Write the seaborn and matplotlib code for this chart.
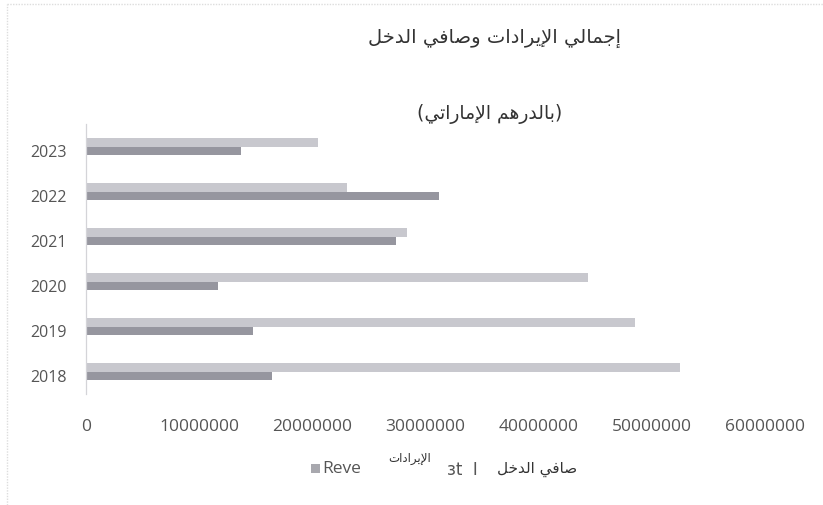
import matplotlib
matplotlib.use("Agg")
import matplotlib.pyplot as plt
import matplotlib.transforms as mtransforms
import seaborn as sns
import pandas as pd
from matplotlib.patches import Rectangle
from matplotlib.lines import Line2D

# ---------------- data ----------------
years = ["2023", "2022", "2021", "2020", "2019", "2018"]
revenue = [20.5e6, 23.1e6, 28.4e6, 44.4e6, 48.5e6, 52.5e6]
net_income = [13.7e6, 31.2e6, 27.4e6, 11.7e6, 14.8e6, 16.4e6]
x_ticks = [0, 10000000, 20000000, 30000000, 40000000, 50000000, 60000000]
title_1 = "إجمالي الإيرادات وصافي الدخل"
title_2 = "(بالدرهم الإماراتي)"
legend_rev_ar = "الإيرادات"
legend_net_ar = "صافي الدخل"

# ------------- minimal Arabic shaping (presentation forms, visual order) -------------
FORMS = {
    '\u0627': ('\uFE8D', '\uFE8E', None, None),
    '\u0623': ('\uFE83', '\uFE84', None, None),
    '\u0625': ('\uFE87', '\uFE88', None, None),
    '\u0622': ('\uFE81', '\uFE82', None, None),
    '\u0628': ('\uFE8F', '\uFE90', '\uFE91', '\uFE92'),
    '\u062A': ('\uFE95', '\uFE96', '\uFE97', '\uFE98'),
    '\u062C': ('\uFE9D', '\uFE9E', '\uFE9F', '\uFEA0'),
    '\u062E': ('\uFEA5', '\uFEA6', '\uFEA7', '\uFEA8'),
    '\u062F': ('\uFEA9', '\uFEAA', None, None),
    '\u0631': ('\uFEAD', '\uFEAE', None, None),
    '\u0635': ('\uFEB9', '\uFEBA', '\uFEBB', '\uFEBC'),
    '\u0641': ('\uFED1', '\uFED2', '\uFED3', '\uFED4'),
    '\u0644': ('\uFEDD', '\uFEDE', '\uFEDF', '\uFEE0'),
    '\u0645': ('\uFEE1', '\uFEE2', '\uFEE3', '\uFEE4'),
    '\u0647': ('\uFEE9', '\uFEEA', '\uFEEB', '\uFEEC'),
    '\u0648': ('\uFEED', '\uFEEE', None, None),
    '\u064A': ('\uFEF1', '\uFEF2', '\uFEF3', '\uFEF4'),
}
LAM_ALEF = {'\u0627': ('\uFEFB', '\uFEFC'), '\u0623': ('\uFEF7', '\uFEF8'),
            '\u0625': ('\uFEF9', '\uFEFA'), '\u0622': ('\uFEF5', '\uFEF6')}


def shape(text):
    toks = []
    i = 0
    while i < len(text):
        c = text[i]
        if c == '\u0644' and i + 1 < len(text) and text[i + 1] in LAM_ALEF:
            toks.append(('LA', text[i + 1]))
            i += 2
        else:
            toks.append(c)
            i += 1

    def dual(t):
        return isinstance(t, str) and t in FORMS and FORMS[t][2] is not None

    def joining(t):
        return isinstance(t, tuple) or t in FORMS

    out = []
    for k, t in enumerate(toks):
        prev = toks[k - 1] if k > 0 else None
        nxt = toks[k + 1] if k + 1 < len(toks) else None
        jp = prev is not None and dual(prev) and joining(t)
        if isinstance(t, tuple):
            out.append(LAM_ALEF[t[1]][1 if jp else 0])
            continue
        if t not in FORMS:
            out.append(t)
            continue
        jn = dual(t) and nxt is not None and joining(nxt)
        f = FORMS[t]
        if jp and jn:
            out.append(f[3])
        elif jp:
            out.append(f[1])
        elif jn:
            out.append(f[2])
        else:
            out.append(f[0])
    s = ''.join(out)[::-1]
    return s.translate(str.maketrans('()', ')('))


# ---------------- frame ----------------
df = pd.DataFrame({
    "year": years * 2,
    "value": revenue + net_income,
    "series": ["Revenue"] * len(years) + ["Net Income"] * len(years),
})

sns.set_theme(style="white")
plt.rcParams['font.family'] = ['Open Sans', 'DejaVu Sans']

W, H = 823, 506
fig = plt.figure(figsize=(W / 100, H / 100), dpi=100)
ax = fig.add_axes([86 / W, 1 - 395 / H, (765 - 86) / W, (395 - 125) / H])

pal = {"Revenue": "#c8c8ce", "Net Income": "#96969f"}
sns.barplot(data=df, x="value", y="year", hue="series", order=years,
            hue_order=["Revenue", "Net Income"], palette=pal, width=0.39,
            orient="h", ax=ax, legend=False, saturation=1, linewidth=0)

ax.set_xlim(0, 60e6)
ax.set_xticks(x_ticks)
ax.set_xticklabels([str(v) for v in x_ticks], fontsize=12.5, color="#555555")
ax.tick_params(axis="x", length=0, pad=17)
ax.tick_params(axis="y", length=0, pad=14, labelsize=11.5, labelcolor="#555555")
ax.set_xlabel("")
ax.set_ylabel("")
for side in ["top", "right", "bottom"]:
    ax.spines[side].set_visible(False)
ax.spines["left"].set_color("#d4d4d8")
ax.spines["left"].set_linewidth(0.9)

# y labels sit a little below the bar pairs in the scan
shift = mtransforms.ScaledTranslation(0, -4 / 100, fig.dpi_scale_trans)
for lab in ax.get_yticklabels():
    lab.set_transform(lab.get_transform() + shift)

# titles
fig.text(495 / W, 1 - 38 / H, shape(title_1), ha="center", va="center",
         fontsize=14, color="#333333", family="DejaVu Sans")
fig.text(490 / W, 1 - 114 / H, shape(title_2), ha="center", va="center",
         fontsize=13.5, color="#333333", family="DejaVu Sans")

# legend (garbled overlay, as in the scan)
fig.patches.append(Rectangle((311 / W, 1 - 474 / H), 9 / W, 9 / H,
                             transform=fig.transFigure, facecolor="#a8a8ae",
                             edgecolor="none"))
fig.text(322 / W, 1 - 469 / H, "Reve", ha="left", va="center", fontsize=12.5,
         color="#555555")
fig.text(410 / W, 1 - 459 / H, shape(legend_rev_ar), ha="center", va="center",
         fontsize=8.5, color="#333333", family="DejaVu Sans")
fig.text(447 / W, 1 - 470 / H, "ɜt  I", ha="left", va="center", fontsize=12,
         color="#555555", family="DejaVu Sans")
fig.text(537 / W, 1 - 469 / H, shape(legend_net_ar), ha="center", va="center",
         fontsize=11, color="#333333", family="DejaVu Sans")

# faint scan frame
fig.lines.append(Line2D([7 / W, 7 / W], [0, 1 - 5 / H], transform=fig.transFigure,
                        color="#dddddd", lw=1, ls=(0, (1, 1))))
fig.lines.append(Line2D([7 / W, 1], [1 - 5 / H, 1 - 5 / H], transform=fig.transFigure,
                        color="#dddddd", lw=1, ls=(0, (1, 1))))

fig.savefig("out.png", dpi=100, facecolor="white")
